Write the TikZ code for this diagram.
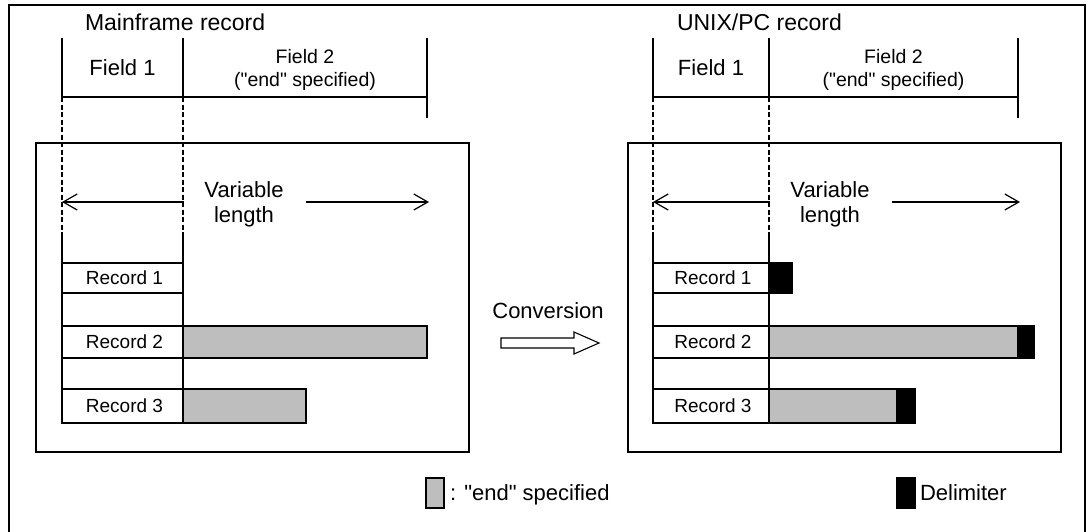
\documentclass[tikz,border=0pt]{standalone}
\usepackage{fontspec}
\setmainfont{Liberation Sans}[Ligatures=TeXOff]
\usetikzlibrary{arrows.meta}
\definecolor{fillgray}{RGB}{190,190,190}
\newcommand{\fs}[1]{\fontsize{#1}{#1}\selectfont}
\newcommand{\dq}{\char34\relax}
\newcommand{\drawpanel}[8]{%
  % #1 prefix, #2 field1 left, #3 middle, #4 field2 right, #5 box left, #6 box right, #7 title, #8 title x
  \draw (#5,143) rectangle (#6,452);
  \node[txt, font=\fs{23}, anchor=base west] (#1title) at (#8,30) {#7};
  \coordinate (#1ha) at (#2,38); \coordinate (#1hb) at (#3,38); \coordinate (#1hc) at (#4,38);
  \coordinate (#1la) at (#2,97); \coordinate (#1lb) at (#3,97); \coordinate (#1lc) at (#4,97);
  \coordinate (#1ea) at (#2,233); \coordinate (#1eb) at (#3,233);
  \coordinate (#1fa) at (#2,423); \coordinate (#1fb) at (#3,423);
  \draw (#1ha) -- (#1la); \draw (#1hb) -- (#1lb); \draw (#1hc) -- (#4,118);
  \draw (#1la) -- (#1lc);
  \draw[dsh] (#1la) -- (#1ea); \draw[dsh] (#1lb) -- (#1eb);
  \draw (#1ea) -- (#1fa); \draw (#1eb) -- (#1fb);
  \node[txt, font=\fs{22}, anchor=base] (#1f1) at ({(#2+#3)/2},75) {Field 1};
  \node[txt, font=\fs{19.5}, anchor=base] (#1f2a) at ({(#3+#4)/2},63) {Field 2};
  \node[txt, font=\fs{19.5}, anchor=base] (#1f2b) at ({(#3+#4)/2},86) {(\dq end\dq\ specified)};
  \node[txt, font=\fs{22}, anchor=base] (#1var) at ({#3+61},197) {Variable};
  \node[txt, font=\fs{22}, anchor=base] (#1len) at ({#3+61},222) {length};
  \coordinate (#1a1) at (#3+1,202); \coordinate (#1a2) at (#2,202);
  \coordinate (#1b1) at (#3+123,202); \coordinate (#1b2) at (#4+2,202);
  \draw[barb] (#1a1) -- (#1a2);
  \draw[barb] (#1b1) -- (#1b2);
  \draw (#2,263) rectangle (#3,293);
  \draw (#2,326) rectangle (#3,358);
  \draw (#2,389) rectangle (#3,423);
  \node[txt, font=\fs{19}] (#1r1) at ({(#2+#3)/2+2},278) {Record 1};
  \node[txt, font=\fs{19}] (#1r2) at ({(#2+#3)/2+2},342) {Record 2};
  \node[txt, font=\fs{19}] (#1r3) at ({(#2+#3)/2+2},406) {Record 3};
}
\begin{document}
\begin{tikzpicture}[x=1pt,y=-1pt, line width=1.2pt,
  txt/.style={inner sep=0pt, outer sep=0pt},
  dsh/.style={dash pattern=on 5pt off 2.5pt, line width=1.2pt},
  barb/.style={-{Straight Barb[length=14pt,width=16pt,line width=1.2pt]}},
  endfill/.style={draw=black, fill=fillgray},
  delim/.style={draw=black, fill=black}]
\useasboundingbox (0,0) rectangle (1089,531);
\fill[white] (0,0) rectangle (1089,531);
% outer frame (open at the bottom)
\draw (9,540) -- (9,5) -- (1085,5) -- (1085,540);

\drawpanel{L}{62}{183}{427}{36}{469}{Mainframe record}{85}
\drawpanel{R}{653}{769}{1018}{628}{1061}{UNIX/PC record}{677}

% left bars
\draw[endfill] (183,326) rectangle (427,358);
\draw[endfill] (183,389) rectangle (306,423);
% right bars
\draw[delim] (769,263) rectangle (792,293);
\draw[endfill] (769,326) rectangle (1018,358);
\draw[delim] (1018,326) rectangle (1034,358);
\draw[endfill] (769,389) rectangle (897,423);
\draw[delim] (897,389) rectangle (915,423);

% conversion
\node[txt, font=\fs{22}, anchor=base] (conv) at (548,318) {Conversion};
\draw[line width=1.1pt, fill=white] (501,338) -- (574,338) -- (574,332) -- (599,343) -- (574,354) -- (574,348) -- (501,348) -- cycle;

% legend
\draw[endfill] (426,478) rectangle (444,508);
\node[txt, font=\fs{22}, anchor=base west] (lg1) at (450,500) {: \dq end\dq\ specified};
\draw[delim] (897,478) rectangle (915,508);
\node[txt, font=\fs{22}, anchor=base west] (lg2) at (920,500) {Delimiter};
\end{tikzpicture}
\end{document}
